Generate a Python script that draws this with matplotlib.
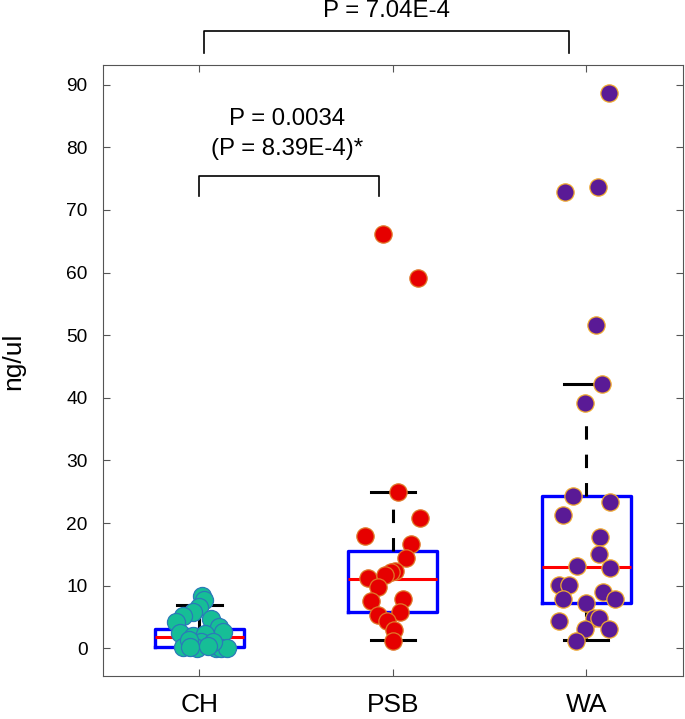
import matplotlib.pyplot as plt

plt.rcParams['font.family'] = ['Liberation Sans', 'DejaVu Sans']

groups = ["CH", "PSB", "WA"]

# box summaries
box_q1 = [0.15, 5.75, 7.3]
box_med = [1.8, 11.07, 13.0]
box_q3 = [3.08, 15.6, 24.4]
whis_lo = [0.0, 1.33, 1.3]
whis_hi = [6.9, 24.9, 42.2]

# jittered points (x in category units, y in ng/ul)
ch_x = [1.014, 1.026, 0.996, 0.965, 0.917, 0.880, 1.060, 1.103, 1.124, 0.902, 0.965,
        1.031, 1.009, 0.914, 0.988, 1.086, 1.112, 1.143, 0.948, 1.069, 0.950, 1.046]
ch_y = [8.4, 7.7, 6.65, 5.85, 5.2, 4.15, 4.6, 3.45, 2.65, 2.4, 1.97,
        2.28, 1.05, 0.15, 0.1, 0.1, 0.1, 0.1, 1.3, 1.05, 0.2, 0.3]

psb_x = [1.947, 2.128, 2.025, 2.140, 1.858, 2.094, 2.070, 2.011, 1.992, 1.874,
         1.961, 1.924, 1.885, 2.054, 1.924, 2.037, 1.970, 2.008, 1.999]
psb_y = [66.1, 59.1, 24.9, 20.8, 18.0, 16.7, 14.4, 12.4, 12.2, 11.2,
         11.7, 9.8, 7.6, 7.9, 5.3, 5.75, 4.4, 2.9, 1.2]

wa_x = [3.116, 2.889, 3.060, 3.053, 3.080, 2.996, 2.929, 3.121, 2.880, 3.073, 3.066,
        2.951, 3.121, 2.858, 2.910, 3.089, 2.879, 3.147, 2.999, 2.858, 3.039, 3.065,
        2.996, 3.118, 2.949]
wa_y = [88.7, 72.8, 73.6, 51.6, 42.2, 39.2, 24.3, 23.3, 21.3, 17.7, 15.1,
        13.1, 12.9, 10.1, 10.1, 9.0, 7.8, 7.9, 7.2, 4.3, 4.9, 4.8,
        3.05, 3.1, 1.2]

fig = plt.figure(figsize=(6.85, 7.19), dpi=100)
ax = fig.add_axes([0.150, 0.0602, 0.847, 0.8498])

stats = []
for i, g in enumerate(groups):
    stats.append({"label": g, "q1": box_q1[i], "med": box_med[i], "q3": box_q3[i],
                  "whislo": whis_lo[i], "whishi": whis_hi[i], "fliers": []})

ax.bxp(stats, positions=[1, 2, 3], widths=0.46, capwidths=0.23, showfliers=False,
       boxprops=dict(color="#0000ff", linewidth=2.4),
       medianprops=dict(color="#ff0000", linewidth=2.2),
       whiskerprops=dict(color="black", linewidth=2.2, linestyle=(0, (4.4, 4.9))),
       capprops=dict(color="black", linewidth=2.2),
       zorder=2)

ax.scatter(ch_x, ch_y, s=170, c="#16be96", edgecolors="#2a7ab8", linewidths=0.9, zorder=3)
ax.scatter(psb_x, psb_y, s=155, c="#e60000", edgecolors="#e07828", linewidths=0.9, zorder=3)
ax.scatter(wa_x, wa_y, s=155, c="#5a1a96", edgecolors="#f0aa30", linewidths=0.9, zorder=3)

ax.set_xlim(0.5, 3.5)
ax.set_ylim(-4.38, 93.2)
ax.set_xticks([1, 2, 3])
ax.set_xticklabels(groups)
ax.set_yticks(range(0, 91, 10))

for sp in ax.spines.values():
    sp.set_color("#555555")
    sp.set_linewidth(0.8)

ax.tick_params(direction="in", top=True, right=True, length=5, width=0.8, color="#555555")
ax.tick_params(axis="x", labelsize=19, pad=12.5)
ax.tick_params(axis="y", labelsize=13.8, pad=11)

ax.set_ylabel("ng/ul", fontsize=19)
ax.yaxis.set_label_coords(-0.133, 0.515)

# significance brackets
ax.plot([1.0, 1.0, 1.928, 1.928], [72.2, 75.5, 75.5, 72.2], color="black", linewidth=1.2, zorder=4)
ax.text(1.455, 84.6, "P = 0.0034", ha="center", va="center", fontsize=17.3)
ax.text(1.455, 79.8, "(P = 8.39E-4)*", ha="center", va="center", fontsize=17.3)

ax.plot([1.026, 1.026, 2.913, 2.913], [95.1, 98.6, 98.6, 95.1], color="black", linewidth=1.2,
        clip_on=False)
ax.text(1.965, 101.7, "P = 7.04E-4", ha="center", va="center", fontsize=17.3)

fig.savefig("out.png", dpi=100)
